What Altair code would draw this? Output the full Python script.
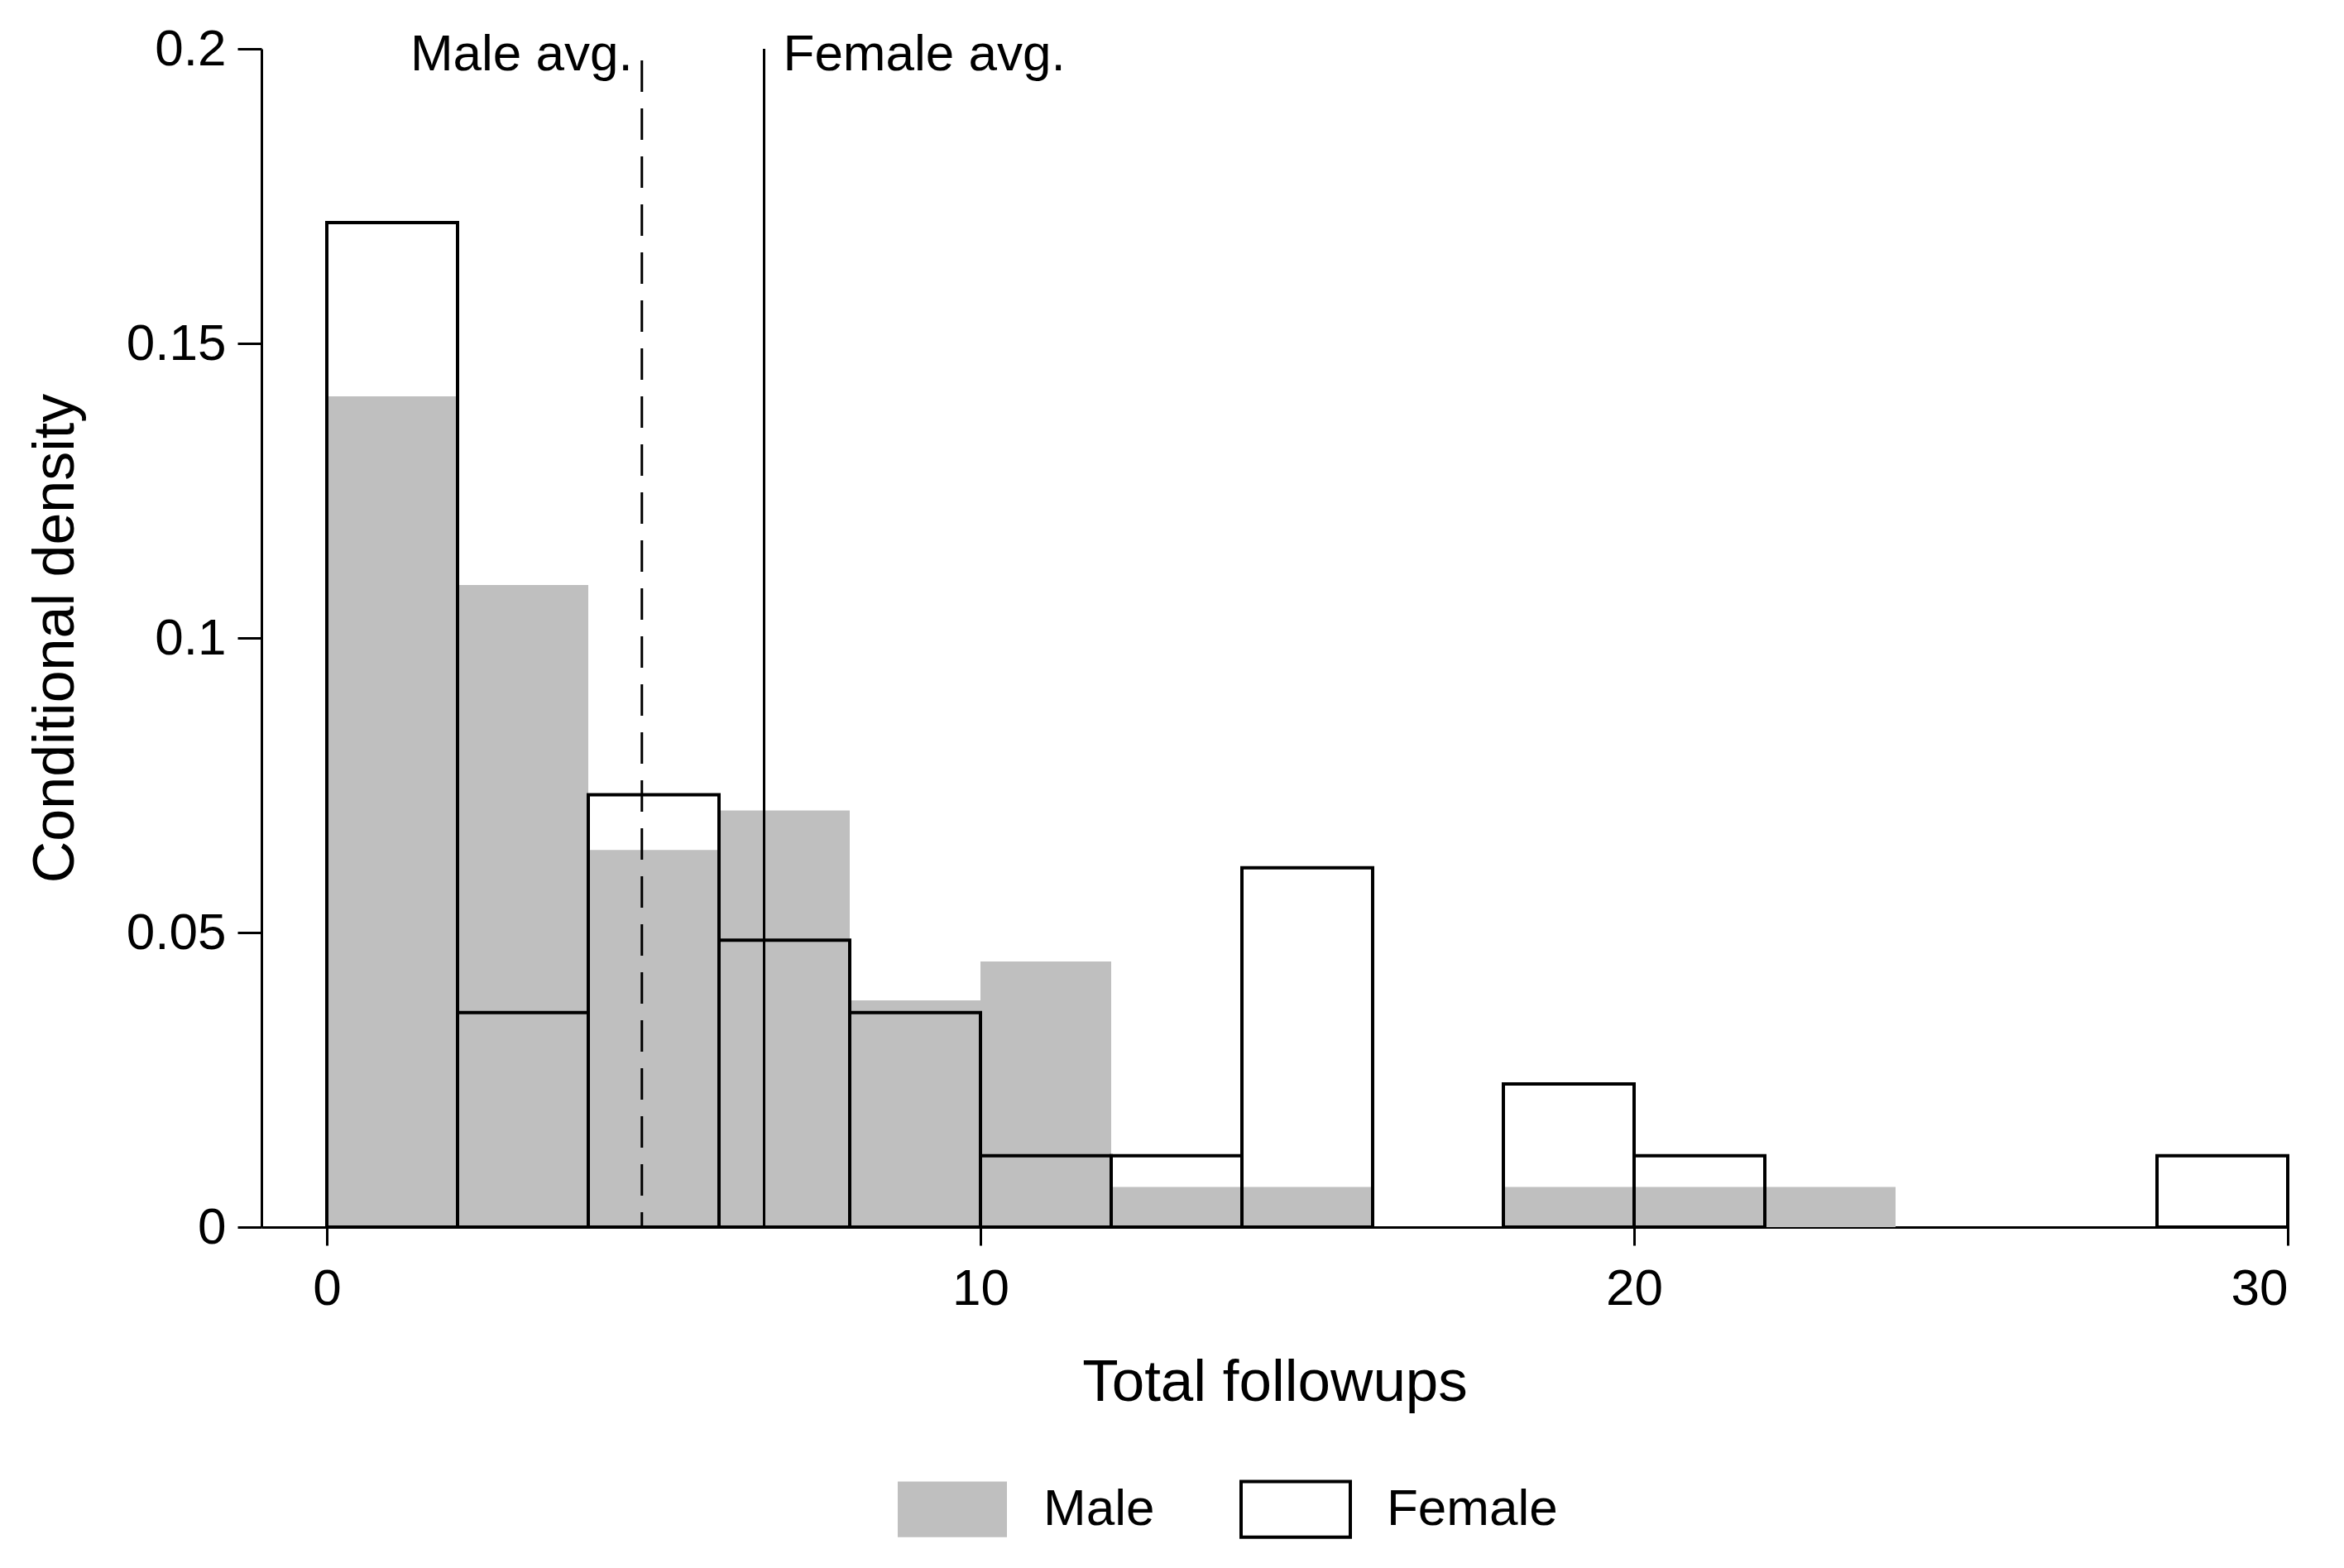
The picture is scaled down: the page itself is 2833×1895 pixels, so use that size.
import altair as alt
import pandas as pd

# ---- data ----
bin_start = [0, 2, 4, 6, 8, 10, 12, 14, 16, 18, 20, 22, 24, 26, 28]
bin_width = 2
male_density = [0.141, 0.109, 0.064, 0.0707, 0.0385, 0.0451, 0.0068, 0.0068,
                0.0, 0.0068, 0.0068, 0.0068, 0.0, 0.0, 0.0]
female_density = [0.1705, 0.0364, 0.0734, 0.0487, 0.0364, 0.0121, 0.0121, 0.061,
                  0.0, 0.0243, 0.0121, 0.0, 0.0, 0.0, 0.0121]
groups = ["Male", "Female"]
avg_labels = ["Male avg.", "Female avg."]
avg_values = [4.82, 6.69]
x_ticks = [0, 10, 20, 30]
y_ticks = [0, 0.05, 0.1, 0.15, 0.2]

FONT = "Liberation Sans, Arial, sans-serif"
GRAY = "#bfbfbf"

rows = []
for s, m, f in zip(bin_start, male_density, female_density):
    rows.append({"sex": "Male", "start": s, "end": s + bin_width, "density": m, "base": 0.0})
    rows.append({"sex": "Female", "start": s, "end": s + bin_width, "density": f, "base": 0.0})
bars = pd.DataFrame(rows)
bars = bars[bars["density"] > 0]

avg_df = pd.DataFrame({"label": avg_labels, "value": avg_values, "top": [0.2, 0.2], "bottom": [0.0, 0.0]})

xscale = alt.Scale(domain=[-1, 30], nice=False, zero=False)
yscale = alt.Scale(domain=[0, 0.2], nice=False)

legend = alt.Legend(
    title=None, orient="none", legendX=767, legendY=1697, direction="horizontal",
    symbolType="M-1,-0.51H1V0.51H-1Z", symbolSize=17424, symbolStrokeWidth=4,
    labelFontSize=62, labelFont=FONT, labelColor="black", labelOffset=42,
    labelLimit=0, columnPadding=96, padding=0,
)
fill_enc = alt.Fill("sex:N", scale=alt.Scale(domain=groups, range=[GRAY, "rgba(255,255,255,0)"]), legend=legend)
stroke_enc = alt.Stroke("sex:N", scale=alt.Scale(domain=groups, range=["rgba(0,0,0,0)", "black"]), legend=legend)

xenc = alt.X("start:Q", scale=xscale,
             axis=alt.Axis(values=x_ticks, format="d", title="Total followups",
                           titleFontSize=71, titleY=209, titleBaseline="alphabetic",
                           labelPadding=22, tickSize=22))
yenc = alt.Y("density:Q", scale=yscale, stack=None,
             axis=alt.Axis(values=y_ticks, format="~g", title="Conditional density",
                           titleFontSize=70, titleX=-228, titleY=712, titleAngle=270,
                           titleBaseline="alphabetic", titleAlign="center",
                           labelPadding=14, tickSize=29))

male_layer = alt.Chart(bars).transform_filter(alt.datum.sex == "Male").mark_bar(strokeWidth=0).encode(
    x=xenc, x2="end:Q", y=yenc, y2="base:Q", fill=fill_enc, stroke=stroke_enc)

female_layer = alt.Chart(bars).transform_filter(alt.datum.sex == "Female").mark_bar(strokeWidth=4).encode(
    x=alt.X("start:Q", scale=xscale), x2="end:Q",
    y=alt.Y("density:Q", scale=yscale, stack=None), y2="base:Q", fill=fill_enc, stroke=stroke_enc)

male_rule = alt.Chart(avg_df).transform_filter(alt.datum.label == "Male avg.").mark_rule(
    color="black", strokeWidth=3, strokeDash=[38, 20], strokeDashOffset=44).encode(
    x=alt.X("value:Q", scale=xscale), y=alt.Y("top:Q", scale=yscale), y2="bottom:Q")

female_rule = alt.Chart(avg_df).transform_filter(alt.datum.label == "Female avg.").mark_rule(
    color="black", strokeWidth=3).encode(
    x=alt.X("value:Q", scale=xscale), y=alt.Y("top:Q", scale=yscale), y2="bottom:Q")

male_text = alt.Chart(avg_df).transform_filter(alt.datum.label == "Male avg.").mark_text(
    align="right", baseline="alphabetic", dx=-11, dy=26, fontSize=62, font=FONT, color="black").encode(
    x=alt.X("value:Q", scale=xscale), y=alt.Y("top:Q", scale=yscale), text="label:N")

female_text = alt.Chart(avg_df).transform_filter(alt.datum.label == "Female avg.").mark_text(
    align="left", baseline="alphabetic", dx=23, dy=26, fontSize=62, font=FONT, color="black").encode(
    x=alt.X("value:Q", scale=xscale), y=alt.Y("top:Q", scale=yscale), text="label:N")

chart = alt.layer(male_layer, female_layer, male_rule, female_rule, male_text, female_text).properties(
    width=2449, height=1424,
    autosize=alt.AutoSizeParams(type="none"),
    padding={"left": 308, "top": 51, "right": 40, "bottom": 380},
    background="white",
).configure_view(stroke=None).configure_axis(
    grid=False, domainColor="black", domainWidth=3, tickColor="black", tickWidth=3,
    labelFont=FONT, labelFontSize=62, labelColor="black",
    titleFont=FONT, titleFontWeight="normal", titleColor="black",
)

chart.save("out.html", embed_options={"renderer": "svg", "actions": False})
